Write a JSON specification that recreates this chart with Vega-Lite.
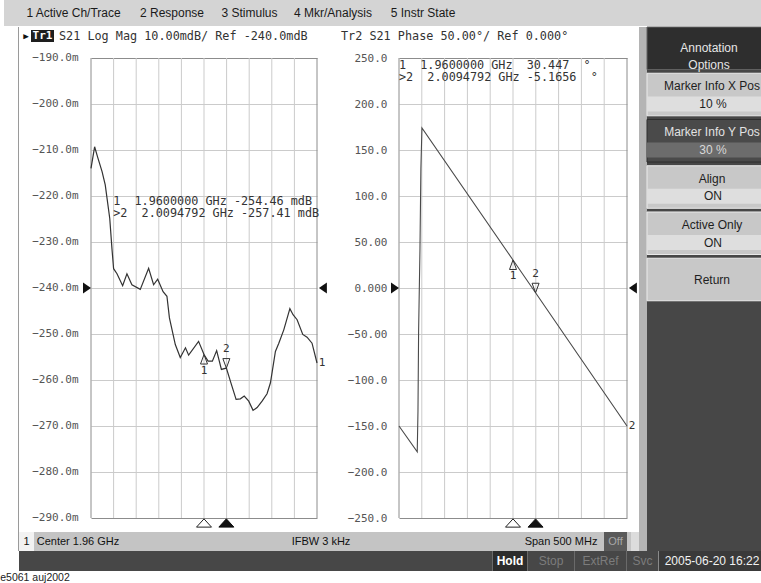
{
"$schema": "https://vega.github.io/schema/vega-lite/v6.json",
"padding": 0,
"background": "#ffffff",
"spacing": 0,
"config": {"view": {"stroke": null}, "font": "Liberation Sans"},
"datasets": {
"mag": [
{"f":1.71,"v":-214.0},{"f":1.718,"v":-209.3},{"f":1.7245,"v":-211.5},{"f":1.7345,"v":-214.7},{"f":1.7415,"v":-217.6},{"f":1.7515,"v":-224.9},{"f":1.7564,"v":-231.5},{"f":1.76,"v":-235.8},{"f":1.7675,"v":-236.9},{"f":1.78,"v":-239.5},{"f":1.7895,"v":-236.9},{"f":1.8005,"v":-239.3},{"f":1.819,"v":-240.3},{"f":1.8375,"v":-235.7},{"f":1.8485,"v":-239.3},{"f":1.8575,"v":-238.1},{"f":1.8695,"v":-240.8},{"f":1.878,"v":-241.8},{"f":1.8835,"v":-246.5},{"f":1.8965,"v":-252.3},{"f":1.9075,"v":-255.1},{"f":1.919,"v":-253.0},{"f":1.926,"v":-254.6},{"f":1.948,"v":-251.6},{"f":1.96,"v":-254.46},{"f":1.969,"v":-255.9},{"f":1.9785,"v":-255.9},{"f":1.988,"v":-253.6},{"f":1.9985,"v":-257.7},{"f":2.0094792,"v":-257.41},{"f":2.0185,"v":-260.3},{"f":2.031,"v":-264.2},{"f":2.0405,"v":-264.1},{"f":2.049,"v":-263.5},{"f":2.059,"v":-264.6},{"f":2.0685,"v":-266.6},{"f":2.0775,"v":-266.0},{"f":2.0885,"v":-264.6},{"f":2.0995,"v":-263.0},{"f":2.107,"v":-260.6},{"f":2.118,"v":-253.8},{"f":2.1255,"v":-252.0},{"f":2.1365,"v":-249.1},{"f":2.15,"v":-244.5},{"f":2.157,"v":-245.8},{"f":2.166,"v":-246.9},{"f":2.1785,"v":-250.1},{"f":2.188,"v":-250.7},{"f":2.199,"v":-252.0},{"f":2.21,"v":-256.3}
],
"phase": [
{"f":1.71,"v":-150},{"f":1.75,"v":-178},{"f":1.7516,"v":-134},{"f":1.753,"v":-47},{"f":1.756,"v":43},{"f":1.758,"v":130},{"f":1.7603,"v":174},{"f":1.96,"v":30.447},{"f":2.0094792,"v":-5.1656},{"f":2.21,"v":-150}
],
"markers": [
{"pane":"mag","m":1,"f":1.96,"v":-254.46},{"pane":"mag","m":2,"f":2.0094792,"v":-257.41},
{"pane":"phase","m":1,"f":1.96,"v":30.447},{"pane":"phase","m":2,"f":2.0094792,"v":-5.1656}
],
"info": [
{"pane":"mag","text":"\u00a01\u00a0\u00a01.9600000\u00a0GHz\u00a0-254.46\u00a0mdB\n>2\u00a0\u00a02.0094792\u00a0GHz\u00a0-257.41\u00a0mdB"},
{"pane":"phase","text":"\u00a01\u00a0\u00a01.9600000\u00a0GHz\u00a0\u00a030.447\u00a0\u00a0°\n>2\u00a0\u00a02.0094792\u00a0GHz\u00a0-5.1656\u00a0\u00a0°"}
],
"gridF": [{"f":1.71},{"f":1.76},{"f":1.81},{"f":1.86},{"f":1.91},{"f":1.96},{"f":2.01},{"f":2.06},{"f":2.11},{"f":2.16},{"f":2.21}]
},
"vconcat": [
{"spacing":0,"bounds":"flush","hconcat":[
 {"width":13,"height":26,"view":{"fill":"#d4d4d4","stroke":null},"data":{"values":[]},"mark":"point"},
 {"width":113,"height":26,"view":{"fill":"#d4d4d4","stroke":null},"data":{"values":[{"t":"1 Active Ch/Trace"}]},"mark":{"type":"text","fontSize":12,"color":"#1a1a1a"},"encoding":{"text":{"field":"t","type":"nominal"}}},
 {"width":84,"height":26,"view":{"fill":"#d4d4d4","stroke":null},"data":{"values":[{"t":"2 Response"}]},"mark":{"type":"text","fontSize":12,"color":"#1a1a1a"},"encoding":{"text":{"field":"t","type":"nominal"}}},
 {"width":71,"height":26,"view":{"fill":"#d4d4d4","stroke":null},"data":{"values":[{"t":"3 Stimulus"}]},"mark":{"type":"text","fontSize":12,"color":"#1a1a1a"},"encoding":{"text":{"field":"t","type":"nominal"}}},
 {"width":96,"height":26,"view":{"fill":"#d4d4d4","stroke":null},"data":{"values":[{"t":"4 Mkr/Analysis"}]},"mark":{"type":"text","fontSize":12,"color":"#1a1a1a"},"encoding":{"text":{"field":"t","type":"nominal"}}},
 {"width":84,"height":26,"view":{"fill":"#d4d4d4","stroke":null},"data":{"values":[{"t":"5 Instr State"}]},"mark":{"type":"text","fontSize":12,"color":"#1a1a1a"},"encoding":{"text":{"field":"t","type":"nominal"}}},
 {"width":300,"height":26,"view":{"fill":"#d4d4d4","stroke":null},"data":{"values":[]},"mark":"point"}
]},
{"spacing":0,"bounds":"flush","hconcat":[
 {"width":14,"height":505,"data":{"values":[]},"mark":"point"},
 {"width":1,"height":505,"view":{"fill":"#9a9a9a","stroke":null},"data":{"values":[]},"mark":"point"},
 {"width":72,"height":505,"data":{"values":[]},"mark":"point"},
 {"width":226,"height":505,
  "layer":[
   {"data":{"name":"gridF"},"mark":{"type":"rule","strokeWidth":1},"encoding":{"x":{"field":"f","type":"quantitative","scale":{"domain":[1.71,2.21],"nice":false,"zero":false},"axis":null},"y":{"datum":-290,"type":"quantitative","scale":{"domain":[-293.0435,-183.2609],"nice":false,"zero":false},"axis":{"title":null}},"y2":{"datum":-190},"color":{"condition":{"test":"datum.f < 1.715 || datum.f > 2.205","value":"#8c8c8c"},"value":"#cbcbcb"}}},
   {"data":{"name":"mag"},"mark":{"type":"line","color":"#333333","strokeWidth":1.2},"encoding":{"x":{"field":"f","type":"quantitative","scale":{"domain":[1.71,2.21],"nice":false,"zero":false},"axis":null},"y":{"field":"v","type":"quantitative","scale":{"domain":[-293.0435,-183.2609],"nice":false,"zero":false},"axis":{"values":[-290,-280,-270,-260,-250,-240,-230,-220,-210,-200,-190],"grid":true,"gridColor":{"condition":{"test":"datum.value < -289 || datum.value > -191","value":"#8c8c8c"},"value":"#cbcbcb"},"labelExpr":"format(datum.value, '.4r') + 'm'","labelFont":"DejaVu Sans Mono","labelFontSize":11,"labelColor":"#555555","labelPadding":13,"labelFlush":false,"labelOverlap":false,"ticks":false,"domain":false,"title":null}}}},
   {"data":{"name":"markers"},"transform":[{"filter":"datum.pane == 'mag' && datum.m == 1"}],"mark":{"type":"point","shape":"M0,0L0.7,1.9L-0.7,1.9Z","size":100,"filled":false,"color":"#333333","opacity":1,"strokeWidth":1},"encoding":{"x":{"field":"f","type":"quantitative","axis":null},"y":{"field":"v","type":"quantitative","axis":{"title":null}}}},
   {"data":{"name":"markers"},"transform":[{"filter":"datum.pane == 'mag' && datum.m == 2"}],"mark":{"type":"point","shape":"M0,0L0.7,-1.9L-0.7,-1.9Z","size":100,"filled":false,"color":"#333333","opacity":1,"strokeWidth":1},"encoding":{"x":{"field":"f","type":"quantitative","axis":null},"y":{"field":"v","type":"quantitative","axis":{"title":null}}}},
   {"data":{"name":"markers"},"transform":[{"filter":"datum.pane == 'mag' && datum.m == 1"}],"mark":{"type":"text","dy":16,"font":"DejaVu Sans Mono","fontSize":11,"color":"#333333"},"encoding":{"x":{"field":"f","type":"quantitative","axis":null},"y":{"field":"v","type":"quantitative","axis":{"title":null}},"text":{"field":"m","type":"nominal"}}},
   {"data":{"name":"markers"},"transform":[{"filter":"datum.pane == 'mag' && datum.m == 2"}],"mark":{"type":"text","dy":-19,"font":"DejaVu Sans Mono","fontSize":11,"color":"#333333"},"encoding":{"x":{"field":"f","type":"quantitative","axis":null},"y":{"field":"v","type":"quantitative","axis":{"title":null}},"text":{"field":"m","type":"nominal"}}},
   {"data":{"name":"markers"},"transform":[{"filter":"datum.pane == 'mag' && datum.m == 1"}],"mark":{"type":"point","shape":"M-1,0.55L0,-0.55L1,0.55Z","size":225,"filled":true,"fill":"#ffffff","stroke":"#222222","strokeWidth":1,"opacity":1,"yOffset":5},"encoding":{"x":{"field":"f","type":"quantitative","axis":null},"y":{"datum":-290,"type":"quantitative","axis":{"title":null}}}},
   {"data":{"name":"markers"},"transform":[{"filter":"datum.pane == 'mag' && datum.m == 2"}],"mark":{"type":"point","shape":"M-1,0.55L0,-0.55L1,0.55Z","size":225,"filled":true,"fill":"#111111","stroke":"#111111","strokeWidth":1,"opacity":1,"yOffset":5},"encoding":{"x":{"field":"f","type":"quantitative","axis":null},"y":{"datum":-290,"type":"quantitative","axis":{"title":null}}}},
   {"data":{"values":[{}]},"mark":{"type":"point","shape":"M0,0L-1.45,-1L-1.45,1Z","size":121,"filled":true,"color":"#111111","opacity":1},"encoding":{"x":{"datum":1.71,"type":"quantitative","axis":null},"y":{"datum":-240,"type":"quantitative","axis":{"title":null}}}},
   {"data":{"values":[{}]},"mark":{"type":"point","shape":"M0.35,0L1.8,-1L1.8,1Z","size":121,"filled":true,"color":"#111111","opacity":1},"encoding":{"x":{"datum":2.21,"type":"quantitative","axis":null},"y":{"datum":-240,"type":"quantitative","axis":{"title":null}}}},
   {"data":{"name":"mag"},"transform":[{"filter":"datum.f > 2.2"}],"mark":{"type":"text","dx":5,"font":"DejaVu Sans Mono","fontSize":11,"color":"#333333"},"encoding":{"x":{"field":"f","type":"quantitative","axis":null},"y":{"field":"v","type":"quantitative","axis":{"title":null}},"text":{"value":"1"}}},
   {"data":{"name":"info"},"transform":[{"filter":"datum.pane == 'mag'"}],"mark":{"type":"text","align":"left","baseline":"top","lineBreak":"\n","lineHeight":12,"font":"DejaVu Sans Mono","fontSize":11.8,"color":"#333333"},"encoding":{"x":{"datum":1.759,"type":"quantitative","axis":null},"y":{"datum":-220,"type":"quantitative","axis":{"title":null}},"text":{"field":"text","type":"nominal"}}},
   {"data":{"values":[{}]},"mark":{"type":"text","dx":-65,"font":"DejaVu Sans Mono","fontSize":9,"color":"#111111"},"encoding":{"x":{"datum":1.71,"type":"quantitative","axis":null},"y":{"datum":-185.2174,"type":"quantitative","axis":{"title":null}},"text":{"value":"▶"}}},
   {"data":{"values":[{}]},"mark":{"type":"point","shape":"M-1,-0.52H1V0.52H-1Z","size":529,"filled":true,"color":"#1e1e1e","opacity":1,"xOffset":-48.5},"encoding":{"x":{"datum":1.71,"type":"quantitative","axis":null},"y":{"datum":-185.2174,"type":"quantitative","axis":{"title":null}}}},
   {"data":{"values":[{}]},"mark":{"type":"text","dx":-48.5,"font":"DejaVu Sans Mono","fontSize":11,"fontWeight":"bold","color":"#ffffff"},"encoding":{"x":{"datum":1.71,"type":"quantitative","axis":null},"y":{"datum":-185.2174,"type":"quantitative","axis":{"title":null}},"text":{"value":"Tr1"}}},
   {"data":{"values":[{}]},"mark":{"type":"text","align":"left","dx":-32,"font":"DejaVu Sans Mono","fontSize":11.8,"color":"#333333"},"encoding":{"x":{"datum":1.71,"type":"quantitative","axis":null},"y":{"datum":-185.2174,"type":"quantitative","axis":{"title":null}},"text":{"value":"S21 Log Mag 10.00mdB/ Ref -240.0mdB"}}}
  ]
 },
 {"width":82,"height":505,"data":{"values":[]},"mark":"point"},
 {"width":228,"height":505,
  "layer":[
   {"data":{"name":"gridF"},"mark":{"type":"rule","strokeWidth":1},"encoding":{"x":{"field":"f","type":"quantitative","scale":{"domain":[1.71,2.21],"nice":false,"zero":false},"axis":null},"y":{"datum":-250,"type":"quantitative","scale":{"domain":[-265.2174,283.6957],"nice":false,"zero":false},"axis":{"title":null}},"y2":{"datum":250},"color":{"condition":{"test":"datum.f < 1.715 || datum.f > 2.205","value":"#8c8c8c"},"value":"#cbcbcb"}}},
   {"data":{"name":"phase"},"mark":{"type":"line","color":"#4a4a4a","strokeWidth":1.1},"encoding":{"x":{"field":"f","type":"quantitative","scale":{"domain":[1.71,2.21],"nice":false,"zero":false},"axis":null},"y":{"field":"v","type":"quantitative","scale":{"domain":[-265.2174,283.6957],"nice":false,"zero":false},"axis":{"values":[-250,-200,-150,-100,-50,0,50,100,150,200,250],"grid":true,"gridColor":{"condition":{"test":"datum.value < -249 || datum.value > 249","value":"#8c8c8c"},"value":"#cbcbcb"},"labelExpr":"datum.value == 0 ? '0.000' : format(datum.value, '.4r')","labelFont":"DejaVu Sans Mono","labelFontSize":11,"labelColor":"#555555","labelPadding":12,"labelFlush":false,"labelOverlap":false,"ticks":false,"domain":false,"title":null}}}},
   {"data":{"name":"markers"},"transform":[{"filter":"datum.pane == 'phase' && datum.m == 1"}],"mark":{"type":"point","shape":"M0,0L0.7,1.9L-0.7,1.9Z","size":100,"filled":false,"color":"#333333","opacity":1,"strokeWidth":1},"encoding":{"x":{"field":"f","type":"quantitative","axis":null},"y":{"field":"v","type":"quantitative","axis":{"title":null}}}},
   {"data":{"name":"markers"},"transform":[{"filter":"datum.pane == 'phase' && datum.m == 2"}],"mark":{"type":"point","shape":"M0,0L0.7,-1.9L-0.7,-1.9Z","size":100,"filled":false,"color":"#333333","opacity":1,"strokeWidth":1},"encoding":{"x":{"field":"f","type":"quantitative","axis":null},"y":{"field":"v","type":"quantitative","axis":{"title":null}}}},
   {"data":{"name":"markers"},"transform":[{"filter":"datum.pane == 'phase' && datum.m == 1"}],"mark":{"type":"text","dy":16,"font":"DejaVu Sans Mono","fontSize":11,"color":"#333333"},"encoding":{"x":{"field":"f","type":"quantitative","axis":null},"y":{"field":"v","type":"quantitative","axis":{"title":null}},"text":{"field":"m","type":"nominal"}}},
   {"data":{"name":"markers"},"transform":[{"filter":"datum.pane == 'phase' && datum.m == 2"}],"mark":{"type":"text","dy":-19,"font":"DejaVu Sans Mono","fontSize":11,"color":"#333333"},"encoding":{"x":{"field":"f","type":"quantitative","axis":null},"y":{"field":"v","type":"quantitative","axis":{"title":null}},"text":{"field":"m","type":"nominal"}}},
   {"data":{"name":"markers"},"transform":[{"filter":"datum.pane == 'phase' && datum.m == 1"}],"mark":{"type":"point","shape":"M-1,0.55L0,-0.55L1,0.55Z","size":225,"filled":true,"fill":"#ffffff","stroke":"#222222","strokeWidth":1,"opacity":1,"yOffset":5},"encoding":{"x":{"field":"f","type":"quantitative","axis":null},"y":{"datum":-250,"type":"quantitative","axis":{"title":null}}}},
   {"data":{"name":"markers"},"transform":[{"filter":"datum.pane == 'phase' && datum.m == 2"}],"mark":{"type":"point","shape":"M-1,0.55L0,-0.55L1,0.55Z","size":225,"filled":true,"fill":"#111111","stroke":"#111111","strokeWidth":1,"opacity":1,"yOffset":5},"encoding":{"x":{"field":"f","type":"quantitative","axis":null},"y":{"datum":-250,"type":"quantitative","axis":{"title":null}}}},
   {"data":{"values":[{}]},"mark":{"type":"point","shape":"M0,0L-1.45,-1L-1.45,1Z","size":121,"filled":true,"color":"#111111","opacity":1},"encoding":{"x":{"datum":1.71,"type":"quantitative","axis":null},"y":{"datum":0,"type":"quantitative","axis":{"title":null}}}},
   {"data":{"values":[{}]},"mark":{"type":"point","shape":"M0.35,0L1.8,-1L1.8,1Z","size":121,"filled":true,"color":"#111111","opacity":1},"encoding":{"x":{"datum":2.21,"type":"quantitative","axis":null},"y":{"datum":0,"type":"quantitative","axis":{"title":null}}}},
   {"data":{"name":"phase"},"transform":[{"filter":"datum.f > 2.2"}],"mark":{"type":"text","dx":5,"font":"DejaVu Sans Mono","fontSize":11,"color":"#333333"},"encoding":{"x":{"field":"f","type":"quantitative","axis":null},"y":{"field":"v","type":"quantitative","axis":{"title":null}},"text":{"value":"2"}}},
   {"data":{"name":"info"},"transform":[{"filter":"datum.pane == 'phase'"}],"mark":{"type":"text","align":"left","baseline":"top","lineBreak":"\n","lineHeight":12,"font":"DejaVu Sans Mono","fontSize":11.8,"color":"#333333"},"encoding":{"x":{"datum":1.7098,"type":"quantitative","axis":null},"y":{"datum":247.8,"type":"quantitative","axis":{"title":null}},"text":{"field":"text","type":"nominal"}}},
   {"data":{"values":[{}]},"mark":{"type":"text","align":"left","dx":-58,"font":"DejaVu Sans Mono","fontSize":11.8,"color":"#333333"},"encoding":{"x":{"datum":1.71,"type":"quantitative","axis":null},"y":{"datum":273.913,"type":"quantitative","axis":{"title":null}},"text":{"value":"Tr2 S21 Phase 50.00°/ Ref 0.000°"}}}
  ]
 },
 {"width":12,"height":505,"data":{"values":[]},"mark":"point"},
 {"width":8,"height":505,"view":{"fill":"#b4b4b4","stroke":null},"data":{"values":[]},"mark":"point"},
 {"width":118,"height":505,"view":{"fill":"#474747","stroke":null},
  "data":{"values":[
   {"key":"hdr","kind":"hdr","label":"Annotation\nOptions","val":"","on":false},
   {"key":"xpos","kind":"btn","label":"Marker Info X Pos","val":"10 %","on":false},
   {"key":"ypos","kind":"btn","label":"Marker Info Y Pos","val":"30 %","on":true},
   {"key":"align","kind":"btn","label":"Align","val":"ON","on":false},
   {"key":"active","kind":"btn","label":"Active Only","val":"ON","on":false},
   {"key":"ret","kind":"btn","label":"Return","val":"","on":false}
  ]},
  "encoding":{"y":{"field":"key","type":"nominal","sort":null,"axis":null,"scale":{"domain":["hdr","xpos","ypos","align","active","ret","e1","e2","e3","e4","e5"],"paddingInner":0.08,"paddingOuter":0}}},
  "layer":[
   {"transform":[{"filter":"datum.kind == 'hdr'"}],"mark":{"type":"rect","xOffset":1,"fill":"#2e2e2e","stroke":"#626262","strokeWidth":1}},
   {"transform":[{"filter":"datum.kind == 'btn'"}],"mark":{"type":"rect","xOffset":5,"x2Offset":-1,"strokeWidth":1},"encoding":{"fill":{"condition":{"test":"datum.on","value":"#4a4a4a"},"value":"#c8c8c8"},"stroke":{"condition":{"test":"datum.on","value":"#2e2e2e"},"value":"#ececec"}}},
   {"transform":[{"filter":"datum.val != ''"}],"mark":{"type":"rule","xOffset":21,"x2Offset":-7,"strokeWidth":15},"encoding":{"y":{"field":"key","type":"nominal","bandPosition":0.72},"color":{"condition":{"test":"datum.on","value":"#6c6c6c"},"value":"#dedede"}}},
   {"transform":[{"filter":"datum.val != ''"}],"mark":{"type":"text","dx":6,"fontSize":12},"encoding":{"y":{"field":"key","type":"nominal","bandPosition":0.3},"text":{"field":"label","type":"nominal"},"color":{"condition":{"test":"datum.on","value":"#e2e2e2"},"value":"#1e1e1e"}}},
   {"transform":[{"filter":"datum.val != ''"}],"mark":{"type":"text","dx":7,"fontSize":12},"encoding":{"y":{"field":"key","type":"nominal","bandPosition":0.72},"text":{"field":"val","type":"nominal"},"color":{"condition":{"test":"datum.on","value":"#d8d8d8"},"value":"#1e1e1e"}}},
   {"transform":[{"filter":"datum.key == 'ret'"}],"mark":{"type":"text","dx":6,"fontSize":12,"color":"#1e1e1e"},"encoding":{"y":{"field":"key","type":"nominal","bandPosition":0.5},"text":{"field":"label","type":"nominal"}}},
   {"transform":[{"filter":"datum.kind == 'hdr'"}],"mark":{"type":"text","dx":3,"fontSize":12,"lineBreak":"\n","lineHeight":17,"color":"#e6e6e6"},"encoding":{"y":{"field":"key","type":"nominal","bandPosition":0.5},"text":{"field":"label","type":"nominal"}}}
  ]
 }
]},
{"spacing":0,"bounds":"flush","hconcat":[
 {"width":14,"height":19,"data":{"values":[]},"mark":"point"},
 {"width":1,"height":19,"view":{"fill":"#9a9a9a","stroke":null},"data":{"values":[]},"mark":"point"},
 {"width":15,"height":19,"view":{"fill":"#f2f2f2","stroke":null},"data":{"values":[{"t":"1"}]},"mark":{"type":"text","fontSize":11,"color":"#111111"},"encoding":{"text":{"field":"t","type":"nominal"}}},
 {"width":88,"height":19,"view":{"fill":"#c4c4c4","stroke":null},"data":{"values":[{"t":"Center 1.96 GHz"}]},"mark":{"type":"text","fontSize":11,"color":"#111111"},"encoding":{"text":{"field":"t","type":"nominal"}}},
 {"width":163,"height":19,"view":{"fill":"#c4c4c4","stroke":null},"data":{"values":[]},"mark":"point"},
 {"width":72,"height":19,"view":{"fill":"#c4c4c4","stroke":null},"data":{"values":[{"t":"IFBW 3 kHz"}]},"mark":{"type":"text","fontSize":11,"color":"#111111"},"encoding":{"text":{"field":"t","type":"nominal"}}},
 {"width":164,"height":19,"view":{"fill":"#c4c4c4","stroke":null},"data":{"values":[]},"mark":"point"},
 {"width":80,"height":19,"view":{"fill":"#c4c4c4","stroke":null},"data":{"values":[{"t":"Span 500 MHz"}]},"mark":{"type":"text","fontSize":11,"color":"#111111"},"encoding":{"text":{"field":"t","type":"nominal"}}},
 {"width":3,"height":19,"view":{"fill":"#c4c4c4","stroke":null},"data":{"values":[]},"mark":"point"},
 {"width":23,"height":19,"view":{"fill":"#5a5a5a","stroke":null},"data":{"values":[{"t":"Off"}]},"mark":{"type":"text","fontSize":11,"color":"#a8a8a8"},"encoding":{"text":{"field":"t","type":"nominal"}}},
 {"width":4,"height":19,"view":{"fill":"#c4c4c4","stroke":null},"data":{"values":[]},"mark":"point"},
 {"width":8,"height":19,"view":{"fill":"#dcdcdc","stroke":null},"data":{"values":[]},"mark":"point"},
 {"width":8,"height":19,"view":{"fill":"#b4b4b4","stroke":null},"data":{"values":[]},"mark":"point"},
 {"width":118,"height":19,"view":{"fill":"#474747","stroke":null},"data":{"values":[]},"mark":"point"}
]},
{"spacing":0,"bounds":"flush","hconcat":[
 {"width":15,"height":20,"data":{"values":[]},"mark":"point"},
 {"width":473,"height":20,"view":{"fill":"#474747","stroke":null},"data":{"values":[]},"mark":"point"},
 {"width":1,"height":20,"view":{"fill":"#6a6a6a","stroke":null},"data":{"values":[]},"mark":"point"},
 {"width":34,"height":20,"view":{"fill":"#2c2c2c","stroke":null},"data":{"values":[{"t":"Hold"}]},"mark":{"type":"text","fontSize":12,"fontWeight":"bold","color":"#ffffff"},"encoding":{"text":{"field":"t","type":"nominal"}}},
 {"width":1,"height":20,"view":{"fill":"#6a6a6a","stroke":null},"data":{"values":[]},"mark":"point"},
 {"width":46,"height":20,"view":{"fill":"#474747","stroke":null},"data":{"values":[{"t":"Stop"}]},"mark":{"type":"text","fontSize":12,"color":"#7c7c7c"},"encoding":{"text":{"field":"t","type":"nominal"}}},
 {"width":1,"height":20,"view":{"fill":"#6a6a6a","stroke":null},"data":{"values":[]},"mark":"point"},
 {"width":51,"height":20,"view":{"fill":"#474747","stroke":null},"data":{"values":[{"t":"ExtRef"}]},"mark":{"type":"text","fontSize":12,"color":"#7c7c7c"},"encoding":{"text":{"field":"t","type":"nominal"}}},
 {"width":1,"height":20,"view":{"fill":"#6a6a6a","stroke":null},"data":{"values":[]},"mark":"point"},
 {"width":31,"height":20,"view":{"fill":"#474747","stroke":null},"data":{"values":[{"t":"Svc"}]},"mark":{"type":"text","fontSize":12,"color":"#7c7c7c"},"encoding":{"text":{"field":"t","type":"nominal"}}},
 {"width":1,"height":20,"view":{"fill":"#8a8a8a","stroke":null},"data":{"values":[]},"mark":"point"},
 {"width":106,"height":20,"view":{"fill":"#3a3a3a","stroke":null},"data":{"values":[{"t":"2005-06-20 16:22"}]},"mark":{"type":"text","fontSize":12,"color":"#f2f2f2"},"encoding":{"text":{"field":"t","type":"nominal"}}}
]},
{"spacing":0,"bounds":"flush","hconcat":[
 {"width":62,"height":13,"data":{"values":[{"t":"e5061 auj2002"}]},"mark":{"type":"text","fontSize":10.5,"color":"#222222"},"encoding":{"text":{"field":"t","type":"nominal"}}},
 {"width":699,"height":13,"data":{"values":[]},"mark":"point"}
]}
]
}
